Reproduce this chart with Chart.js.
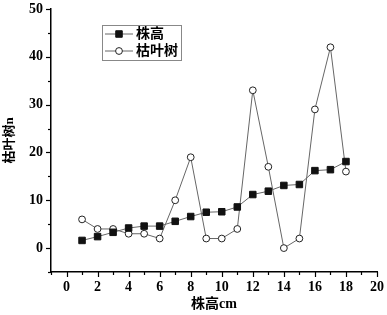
<!DOCTYPE html>
<html>
<head>
<meta charset="utf-8">
<script src="https://cdn.jsdelivr.net/npm/chart.js@4.4.1/dist/chart.umd.min.js"></script>
<style>
  html, body { margin: 0; padding: 0; background: #fff; }
  #wrap { width: 387px; height: 315px; }
</style>
</head>
<body>
<div id="wrap"><canvas id="myChart" width="387" height="315"></canvas></div>
<script>
// sample positions
var xValues = [1, 2, 3, 4, 5, 6, 7, 8, 9, 10, 11, 12, 13, 14, 15, 16, 17, 18];
// 株高 series (squares)
var plantHeight = [1.6, 2.4, 3.3, 4.2, 4.6, 4.6, 5.6, 6.6, 7.5, 7.6, 8.6, 11.2, 11.9, 13.1, 13.3, 16.2, 16.4, 18.1];
// 枯叶树 series (open circles)
var deadLeaf = [6, 4, 4, 3, 3, 2, 10, 19, 2, 2, 4, 33, 17, 0, 2, 29, 42, 16];
var xTickLabels = [0, 2, 4, 6, 8, 10, 12, 14, 16, 18, 20];
var yTickLabels = [0, 10, 20, 30, 40, 50];

var serif = "'Liberation Serif', 'Noto Sans CJK SC', serif";

function toPoints(ys) {
    return xValues.map(function(x, i) { return { x: x, y: ys[i] }; });
}

// draws outward ticks, major and minor
var axisTicks = {
    id: 'axisTicks',
    afterDraw: function(chart) {
        var ctx = chart.ctx;
        var xs = chart.scales.x, ys = chart.scales.y;
        var left = chart.chartArea.left, bottom = chart.chartArea.bottom;
        ctx.save();
        ctx.strokeStyle = '#000';
        ctx.lineWidth = 1.2;
        for (var v = -5; v <= 50; v += 5) {
            var py = Math.round(ys.getPixelForValue(v)) + 0.5;
            var len = (yTickLabels.indexOf(v) >= 0) ? 5 : 3;
            ctx.beginPath();
            ctx.moveTo(left, py);
            ctx.lineTo(left - len, py);
            ctx.stroke();
        }
        for (var u = -1; u <= 20; u += 1) {
            var px = Math.round(xs.getPixelForValue(u)) + 0.5;
            var l2 = (xTickLabels.indexOf(u) >= 0) ? 5 : 3;
            ctx.beginPath();
            ctx.moveTo(px, bottom);
            ctx.lineTo(px, bottom + l2);
            ctx.stroke();
        }
        ctx.restore();
    }
};

// Origin-style boxed legend
var boxLegend = {
    id: 'boxLegend',
    afterDraw: function(chart) {
        var ctx = chart.ctx;
        var bx = 102, by = 25, bw = 79, bh = 35;
        ctx.save();
        ctx.strokeStyle = '#888';
        ctx.lineWidth = 1;
        ctx.strokeRect(bx + 0.5, by + 0.5, bw, bh);
        chart.data.datasets.forEach(function(ds, i) {
            var cy = by + 9 + i * 17;
            ctx.strokeStyle = ds.borderColor;
            ctx.lineWidth = 1;
            ctx.beginPath();
            ctx.moveTo(bx + 3, cy);
            ctx.lineTo(bx + 31, cy);
            ctx.stroke();
            ctx.fillStyle = ds.pointBackgroundColor;
            ctx.strokeStyle = ds.pointBorderColor;
            ctx.beginPath();
            if (ds.pointStyle === 'rect') {
                var s = ds.pointRadius * Math.SQRT1_2;
                ctx.rect(bx + 17 - s, cy - s, 2 * s, 2 * s);
            } else {
                ctx.arc(bx + 17, cy, ds.pointRadius, 0, Math.PI * 2);
            }
            ctx.fill();
            ctx.stroke();
            ctx.fillStyle = '#000';
            ctx.font = 'bold 14px ' + serif;
            ctx.textBaseline = 'middle';
            ctx.fillText(ds.label, bx + 34, cy);
        });
        ctx.restore();
    }
};

function noPad(s) {
    s.paddingTop = 0;
    s.paddingBottom = 0;
    s.paddingLeft = 0;
    s.paddingRight = 0;
}

var ctx = document.getElementById('myChart').getContext('2d');
var chart = new Chart(ctx, {
    type: 'line',
    data: {
        datasets: [{
            label: '株高',
            data: toPoints(plantHeight),
            borderColor: '#666',
            borderWidth: 1,
            pointStyle: 'rect',
            pointRadius: 4.6,
            pointBackgroundColor: '#111',
            pointBorderColor: '#111',
            pointBorderWidth: 1
        }, {
            label: '枯叶树',
            data: toPoints(deadLeaf),
            borderColor: '#666',
            borderWidth: 1,
            pointStyle: 'circle',
            pointRadius: 3.4,
            pointBackgroundColor: '#fff',
            pointBorderColor: '#222',
            pointBorderWidth: 1
        }]
    },
    options: {
        responsive: false,
        animation: false,
        layout: { padding: { top: 9, right: 10, left: 0, bottom: 0 } },
        plugins: {
            legend: { display: false },
            tooltip: { enabled: false }
        },
        scales: {
            x: {
                type: 'linear',
                min: -1,
                max: 20,
                afterFit: function(s) { s.height = 43; noPad(s); },
                afterBuildTicks: function(s) {
                    s.ticks = xTickLabels.map(function(v) { return { value: v }; });
                },
                grid: { display: false, drawTicks: false },
                border: { display: true, color: '#000', width: 1.5 },
                ticks: {
                    color: '#000',
                    padding: 7,
                    maxRotation: 0,
                    font: { family: serif, size: 14, weight: 'bold' }
                },
                title: {
                    display: true,
                    text: '株高cm',
                    color: '#000',
                    padding: { top: 0, bottom: 2 },
                    font: { family: serif, size: 14, weight: 'bold' }
                }
            },
            y: {
                min: -5,
                max: 50,
                afterFit: function(s) { s.width = 51; noPad(s); },
                afterBuildTicks: function(s) {
                    s.ticks = yTickLabels.map(function(v) { return { value: v }; });
                },
                grid: { display: false, drawTicks: false },
                border: { display: true, color: '#000', width: 1.5 },
                ticks: {
                    color: '#000',
                    padding: 8,
                    font: { family: serif, size: 14, weight: 'bold' }
                },
                title: {
                    display: true,
                    text: '枯叶树n',
                    color: '#000',
                    padding: { top: 2, bottom: 0 },
                    font: { family: serif, size: 13, weight: 'bold' }
                }
            }
        }
    },
    plugins: [axisTicks, boxLegend]
});
</script>
</body>
</html>
